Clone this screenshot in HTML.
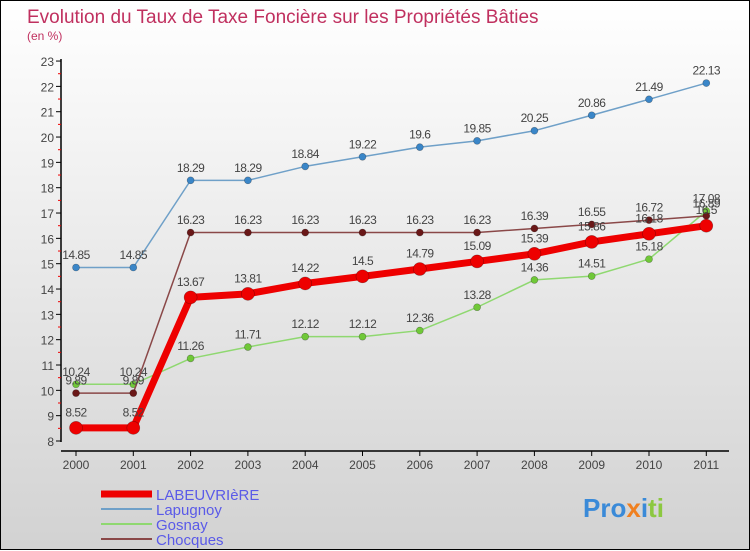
<!DOCTYPE html>
<html><head><meta charset="utf-8"><style>
body{margin:0}
#c{width:748px;height:548px;border:1px solid #000;background:linear-gradient(#fff,#d2d2d2);position:relative;font-family:"Liberation Sans",sans-serif}
svg{position:absolute;left:0;top:0}
</style></head><body>
<div id="c">
<svg id="s" width="750" height="550" xmlns="http://www.w3.org/2000/svg">
<text x="26" y="22" font-size="19" fill="#c0305f">Evolution du Taux de Taxe Foncière sur les Propriétés Bâties</text>
<text x="26" y="39" font-size="12" fill="#c0305f">(en %)</text>
<line x1="60" y1="58" x2="60" y2="441" stroke="#000" stroke-width="1.5"/>
<line x1="60" y1="450" x2="728" y2="450" stroke="#000" stroke-width="1.5"/>
<g id="g"></g>
<g>
<line x1="100" y1="493" x2="151" y2="493" stroke="#e00" stroke-width="7"/>
<text x="155" y="499" font-size="15" fill="#5a5ae8">LABEUVRIèRE</text>
<line x1="100" y1="508" x2="151" y2="508" stroke="#6fa0c8" stroke-width="2"/>
<text x="155" y="514" font-size="15" fill="#5a5ae8">Lapugnoy</text>
<line x1="100" y1="523" x2="151" y2="523" stroke="#8fd870" stroke-width="2"/>
<text x="155" y="529" font-size="15" fill="#5a5ae8">Gosnay</text>
<line x1="100" y1="538" x2="151" y2="538" stroke="#8a4848" stroke-width="2"/>
<text x="155" y="544" font-size="15" fill="#5a5ae8">Chocques</text>
</g>
<text x="582" y="516" font-size="26" font-weight="bold"><tspan fill="#3a8ad8">Pro</tspan><tspan fill="#f08020">x</tspan><tspan fill="#3a8ad8">i</tspan><tspan fill="#8cc840">ti</tspan></text>
</svg>
</div>
<script>
const years=[2000,2001,2002,2003,2004,2005,2006,2007,2008,2009,2010,2011];
const lapugnoy=[14.85,14.85,18.29,18.29,18.84,19.22,19.6,19.85,20.25,20.86,21.49,22.13];
const gosnay=[10.24,10.24,11.26,11.71,12.12,12.12,12.36,13.28,14.36,14.51,15.18,17.08];
const chocques=[9.89,9.89,16.23,16.23,16.23,16.23,16.23,16.23,16.39,16.55,16.72,16.89];
const labeuvriere=[8.52,8.52,13.67,13.81,14.22,14.5,14.79,15.09,15.39,15.86,16.18,16.5];
const yTicks=[8,9,10,11,12,13,14,15,16,17,18,19,20,21,22,23];
const X=i=>75+i*57.3, Y=v=>440-(v-8)*25.33;
const g=document.getElementById('g'), NS='http://www.w3.org/2000/svg';
function mk(t,a){const e=document.createElementNS(NS,t);for(const k in a)e.setAttribute(k,a[k]);g.appendChild(e);return e;}
yTicks.forEach(v=>{
 const t=mk('line',{x1:55,x2:60,y1:Y(v),y2:Y(v),stroke:'#000'});
 
 
 const l=mk('text',{x:53,y:Y(v)+5,'font-size':12,fill:'#444','text-anchor':'end'});l.textContent=v;
 
 
 if(v<23){const m=mk('line',{x1:57,x2:60,y1:Y(v+0.5),y2:Y(v+0.5),stroke:'#e00'});
 
 }
});
years.forEach((yr,i)=>{
 const t=mk('line',{x1:X(i),x2:X(i),y1:450,y2:455,stroke:'#000'});
 
 
 const l=mk('text',{x:X(i),y:468,'font-size':12,fill:'#444','text-anchor':'middle'});l.textContent=yr;
 
 
});
function series(d,name,col,w,r,dot){
 const p=mk('polyline',{points:d.map((v,i)=>X(i)+','+Y(v)).join(' '),fill:'none',stroke:col,'stroke-width':w,'stroke-linejoin':'round'});
 
 
 d.forEach((v,i)=>{
  const c=mk('circle',{cx:X(i),cy:Y(v),r:r,fill:dot,stroke:'rgba(0,0,0,0.35)','stroke-width':0.6});
  
  
  const t=mk('text',{x:X(i),y:Y(v)-(r+5),'font-size':12,fill:'#444','text-anchor':'middle','letter-spacing':'-0.5'});t.textContent=v;
  
  
 });
}
series(lapugnoy,'lapugnoy','#6fa0c8',1.5,3.5,'#3a86c8');
series(gosnay,'gosnay','#8fd870',1.5,3.5,'#70c838');
series(chocques,'chocques','#8a4848',1.5,3.5,'#6a1818');
series(labeuvriere,'labeuvriere','#ee0000',7,6.5,'#ee0000');
</script>
</body></html>
